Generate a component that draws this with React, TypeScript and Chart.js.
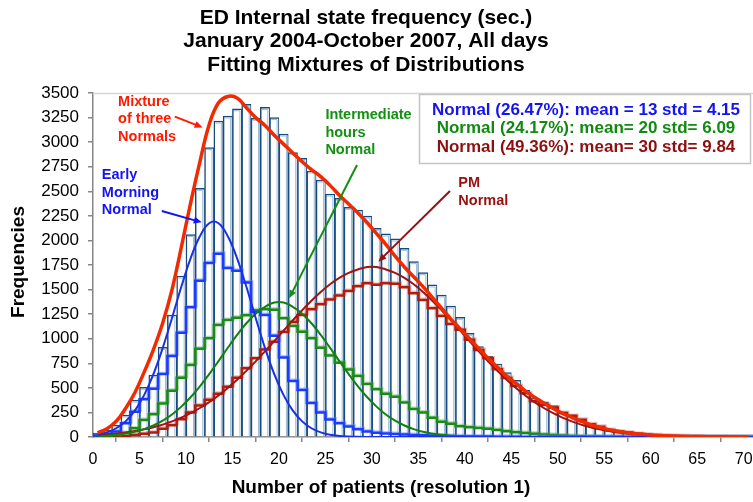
import React, { useEffect, useRef } from 'react';
import { Chart, registerables } from 'chart.js';

Chart.register(...registerables);

const FONT = '"Liberation Sans", Arial, Helvetica, sans-serif';

// Histogram bins: bin k covers [k, k+1) patients
const bins = Array.from({ length: 71 }, (_, i) => i);

// All-days frequency per bin
const totalCounts = [
  40, 70, 122, 224, 376, 506, 631, 912, 1241, 1638,
  2060, 2530, 2945, 3215, 3266, 3340, 3385, 3243, 3353, 3250,
  3083, 2893, 2835, 2706, 2615, 2472, 2428, 2337, 2310, 2249,
  2123, 2066, 2015, 1920, 1784, 1672, 1547, 1445, 1333, 1218,
  1055, 919, 820, 742, 655, 577, 478, 395, 359, 319,
  255, 224, 183, 135, 108, 75, 58, 48, 34, 25,
  20, 15, 12, 8, 6, 4, 3, 2, 1, 1, 0,
];

// Component histograms (step lines)
const earlyCounts = [
  15, 30, 55, 139, 258, 383, 490, 640, 824, 1061,
  1319, 1590, 1770, 1865, 1720, 1692, 1572, 1275, 1241, 1030,
  810, 570, 478, 345, 250, 178, 140, 108, 80, 56,
  44, 36, 30, 25, 20, 17, 14, 12, 10, 8,
  6, 5, 4, 3, 2, 2, 1, 1, 0, 0,
  0, 0, 0, 0, 0, 0, 0, 0, 0, 0,
  0, 0, 0, 0, 0, 0, 0, 0, 0, 0, 0,
];
const intermediateCounts = [
  5, 10, 20, 40, 88, 173, 231, 342, 471, 604,
  732, 899, 1004, 1140, 1190, 1214, 1240, 1290, 1299, 1295,
  1207, 1129, 1072, 1004, 909, 828, 756, 688, 620, 540,
  485, 440, 410, 350, 285, 250, 195, 156, 135, 110,
  100, 92, 85, 72, 58, 48, 40, 33, 26, 20,
  15, 11, 8, 6, 4, 3, 2, 1, 1, 0,
  0, 0, 0, 0, 0, 0, 0, 0, 0, 0, 0,
];
const pmCounts = [
  0, 2, 4, 8, 20, 32, 45, 85, 120, 180,
  250, 320, 380, 440, 510, 604, 699, 800, 890, 970,
  1068, 1170, 1241, 1300, 1350, 1398, 1440, 1485, 1535, 1564,
  1550, 1564, 1560, 1523, 1462, 1394, 1310, 1232, 1150, 1090,
  990, 885, 800, 690, 600, 520, 444, 365, 325, 300,
  245, 215, 175, 130, 105, 72, 55, 45, 32, 24,
  18, 13, 10, 7, 5, 4, 3, 2, 1, 1, 0,
];

// Fitted curves, sampled at bin centres
const earlyFit = [
  23, 47, 89, 159, 268, 426, 639, 906, 1211, 1528,
  1818, 2042, 2175, 2175, 2042, 1818, 1528, 1211, 906, 639,
  426, 268, 159, 89, 47, 23, 11, 5, 2, 1,
  0, 0, 0, 0, 0, 0, 0, 0, 0, 0,
  0, 0, 0, 0, 0, 0, 0, 0, 0, 0,
  0, 0, 0, 0, 0, 0, 0, 0, 0, 0,
  0, 0, 0, 0, 0, 0, 0, 0, 0, 0, 0,
];
const intermediateFit = [
  8, 14, 22, 35, 53, 80, 117, 166, 229, 309,
  404, 515, 640, 772, 908, 1039, 1157, 1255, 1324, 1368,
  1368, 1324, 1255, 1157, 1039, 908, 772, 640, 515, 404,
  309, 229, 166, 117, 80, 53, 35, 22, 14, 8,
  5, 3, 2, 1, 0, 0, 0, 0, 0, 0,
  0, 0, 0, 0, 0, 0, 0, 0, 0, 0,
  0, 0, 0, 0, 0, 0, 0, 0, 0, 0, 0,
];
const pmFit = [
  19, 26, 35, 46, 60, 78, 100, 126, 159, 197,
  242, 295, 355, 423, 499, 583, 673, 770, 871, 976,
  1082, 1188, 1290, 1387, 1476, 1554, 1619, 1670, 1705, 1730,
  1730, 1705, 1670, 1619, 1554, 1476, 1387, 1290, 1188, 1082,
  976, 871, 770, 673, 583, 499, 423, 355, 295, 242,
  197, 159, 126, 100, 78, 60, 46, 35, 26, 19,
  14, 10, 7, 5, 4, 3, 2, 1, 1, 1, 0,
];
const mixtureFit = [
  42, 85, 160, 290, 450, 660, 890, 1160, 1500, 1930,
  2380, 2800, 3180, 3400, 3465, 3450, 3350, 3250, 3170, 3070,
  2980, 2890, 2800, 2720, 2650, 2560, 2460, 2370, 2280, 2180,
  2070, 1960, 1840, 1730, 1630, 1530, 1420, 1310, 1200, 1100,
  1000, 900, 800, 710, 620, 545, 470, 405, 345, 290,
  240, 200, 160, 125, 98, 75, 58, 44, 33, 25,
  18, 13, 10, 7, 5, 4, 3, 2, 1, 1, 0,
];

const xTickValues = [0, 5, 10, 15, 20, 25, 30, 35, 40, 45, 50, 55, 60, 65, 70];
const yTickValues = [0, 250, 500, 750, 1000, 1250, 1500, 1750, 2000, 2250, 2500, 2750, 3000, 3250, 3500];

const titleLines = [
  'ED Internal state frequency (sec.)',
  'January 2004-October 2007, All days',
  'Fitting Mixtures of Distributions',
];
const xAxisTitle = 'Number of patients (resolution 1)';
const yAxisTitle = 'Frequencies';

const fitNotes = [
  { text: 'Normal (26.47%): mean = 13 std = 4.15', color: '#1414f0' },
  { text: 'Normal (24.17%): mean= 20 std= 6.09', color: '#118a11' },
  { text: 'Normal (49.36%): mean= 30 std= 9.84', color: '#8e0f0f' },
];

// Callouts: text anchored at [x, value]; arrow from -> to, in data units
const callouts = [
  { lines: ['Mixture', 'of three', 'Normals'], color: '#ff1a00', at: [2.7, 3411], from: [8.8, 3259], to: [11.8, 3149] },
  { lines: ['Early', 'Morning', 'Normal'], color: '#1414f0', at: [0.95, 2666], from: [7.4, 2299], to: [11.7, 2184] },
  { lines: ['Intermediate', 'hours', 'Normal'], color: '#119011', at: [25.0, 3276], from: [28.4, 2767], to: [21.1, 1411] },
  { lines: ['PM', 'Normal'], color: '#951010', at: [39.3, 2581], from: [38.4, 2503], to: [30.7, 1784] },
];

const binCentres = (vals: number[]) => vals.map((v, i) => ({ x: bins[i] + 0.5, y: v }));
const binSteps = (vals: number[]) => {
  const pts = vals.map((v, i) => ({ x: bins[i], y: v }));
  pts.push({ x: bins[bins.length - 1] + 1, y: vals[vals.length - 1] });
  return pts;
};

// Pale halo colours for the step lines
const stepHalo: Record<string, string> = {
  'Early morning': 'rgba(90,130,255,0.45)',
  'Intermediate hours': 'rgba(90,170,90,0.45)',
  PM: 'rgba(210,110,100,0.45)',
};

const overlay = {
  id: 'overlay',
  beforeDatasetsDraw(chart: any) {
    const { ctx, chartArea } = chart;
    ctx.save();
    ctx.strokeStyle = '#d6d6d6';
    ctx.lineWidth = 1.5;
    ctx.beginPath();
    ctx.moveTo(chartArea.left, chartArea.top + 0.5);
    ctx.lineTo(chartArea.right, chartArea.top + 0.5);
    ctx.stroke();
    ctx.restore();
  },
  beforeDatasetDraw(chart: any, args: any) {
    const ds = chart.data.datasets[args.index];
    if (ds.type !== 'bar' && stepHalo[ds.label]) {
      const { ctx } = chart;
      ctx.save();
      ctx.shadowColor = stepHalo[ds.label];
      ctx.shadowOffsetX = 1.2;
      ctx.shadowOffsetY = -1.2;
      ctx.shadowBlur = 0;
    }
  },
  afterDatasetDraw(chart: any, args: any) {
    const { ctx } = chart;
    const ds = chart.data.datasets[args.index];
    if (ds.type === 'bar') {
      // pale inner edge on the right and top of every bar
      ctx.save();
      ctx.strokeStyle = '#9bbad8';
      ctx.lineWidth = 1;
      args.meta.data.forEach((bar: any) => {
        const right = bar.x + bar.width / 2 - 1.8;
        const left = bar.x - bar.width / 2 + 1.5;
        if (bar.base - bar.y < 3) return;
        ctx.beginPath();
        ctx.moveTo(left, bar.y + 2);
        ctx.lineTo(right, bar.y + 2);
        ctx.moveTo(right, bar.y + 2);
        ctx.lineTo(right, bar.base);
        ctx.stroke();
      });
      ctx.restore();
    } else if (stepHalo[ds.label]) {
      ctx.restore();
    }
  },
  afterDraw(chart: any) {
    const { ctx } = chart;
    const xs = chart.scales.x;
    const ys = chart.scales.y;
    ctx.save();

    // titles
    ctx.fillStyle = '#000';
    ctx.textAlign = 'center';
    ctx.textBaseline = 'middle';
    ctx.font = `bold 21px ${FONT}`;
    titleLines.forEach((t, i) => ctx.fillText(t, 366, 18 + i * 23.5));

    ctx.font = `bold 19px ${FONT}`;
    ctx.fillText(xAxisTitle, 381, 488);

    ctx.save();
    ctx.translate(19, 262);
    ctx.rotate(-Math.PI / 2);
    ctx.font = `bold 19px ${FONT}`;
    ctx.fillText(yAxisTitle, 0, 0);
    ctx.restore();

    // fit summary box
    ctx.fillStyle = '#ffffff';
    ctx.fillRect(419.5, 94.5, 331, 69);
    ctx.strokeStyle = '#c4c4c4';
    ctx.lineWidth = 1.5;
    ctx.strokeRect(419.5, 94.5, 331, 69);
    ctx.font = `bold 17px ${FONT}`;
    fitNotes.forEach((n, i) => {
      ctx.fillStyle = n.color;
      ctx.fillText(n.text, 586, 110.5 + i * 18.3);
    });

    // callouts with arrows
    callouts.forEach((c) => {
      ctx.fillStyle = c.color;
      ctx.strokeStyle = c.color;
      ctx.font = `bold 14.5px ${FONT}`;
      ctx.textAlign = 'left';
      const tx = xs.getPixelForValue(c.at[0]);
      const ty = ys.getPixelForValue(c.at[1]);
      c.lines.forEach((l, i) => ctx.fillText(l, tx, ty + i * 17.6));

      const x1 = xs.getPixelForValue(c.from[0]);
      const y1 = ys.getPixelForValue(c.from[1]);
      const x2 = xs.getPixelForValue(c.to[0]);
      const y2 = ys.getPixelForValue(c.to[1]);
      const ang = Math.atan2(y2 - y1, x2 - x1);
      const head = 8;
      ctx.lineWidth = 2;
      ctx.beginPath();
      ctx.moveTo(x1, y1);
      ctx.lineTo(x2 - Math.cos(ang) * head * 0.8, y2 - Math.sin(ang) * head * 0.8);
      ctx.stroke();
      ctx.beginPath();
      ctx.moveTo(x2, y2);
      ctx.lineTo(x2 - head * Math.cos(ang) + 3.5 * Math.sin(ang), y2 - head * Math.sin(ang) - 3.5 * Math.cos(ang));
      ctx.lineTo(x2 - head * Math.cos(ang) - 3.5 * Math.sin(ang), y2 - head * Math.sin(ang) + 3.5 * Math.cos(ang));
      ctx.closePath();
      ctx.fill();
    });

    ctx.restore();
  },
};

export default function App() {
  const canvasRef = useRef<HTMLCanvasElement | null>(null);

  useEffect(() => {
    const canvas = canvasRef.current;
    if (!canvas) return;

    const stepLine = (label: string, vals: number[], color: string) => ({
      type: 'line' as const,
      label,
      data: binSteps(vals),
      borderColor: color,
      borderWidth: 2.5,
      stepped: true,
      pointRadius: 0,
      fill: false,
      order: 2,
    });
    const curve = (label: string, vals: number[], color: string, width: number, order: number) => ({
      type: 'line' as const,
      label,
      data: binCentres(vals),
      borderColor: color,
      borderWidth: width,
      tension: 0.4,
      pointRadius: 0,
      fill: false,
      order,
    });

    const chart = new Chart(canvas, {
      type: 'bar',
      data: {
        datasets: [
          {
            type: 'bar',
            label: 'All days',
            data: binCentres(totalCounts),
            backgroundColor: '#ffffff',
            borderColor: '#174b7e',
            borderWidth: { left: 1.5, top: 1.5, right: 1, bottom: 0 },
            borderSkipped: false,
            barPercentage: 1,
            categoryPercentage: 1,
            order: 4,
          } as any,
          stepLine('Early morning', earlyCounts, '#1b3cff'),
          stepLine('Intermediate hours', intermediateCounts, '#1a8a1a'),
          stepLine('PM', pmCounts, '#b01c10'),
          curve('Early morning fit', earlyFit, '#1a30e6', 2, 1),
          curve('Intermediate fit', intermediateFit, '#118011', 2, 1),
          curve('PM fit', pmFit, '#a01410', 2, 1),
          curve('Mixture of three Normals', mixtureFit, '#f22a00', 3.5, 0),
        ],
      },
      options: {
        responsive: false,
        animation: false,
        devicePixelRatio: 1,
        layout: { padding: { top: 93, left: 0, right: 0, bottom: 0 } },
        plugins: {
          legend: { display: false },
          tooltip: { enabled: false },
          title: { display: false },
        },
        scales: {
          x: {
            type: 'linear',
            min: 0,
            max: 71,
            offset: false,
            afterBuildTicks: (s: any) => {
              s.ticks = xTickValues.map((v) => ({ value: v }));
            },
            afterFit: (s: any) => {
              s.height = 65;
              s.paddingLeft = 0;
              s.paddingRight = 0;
            },
            ticks: {
              autoSkip: false,
              maxRotation: 0,
              padding: 8,
              color: '#000',
              font: { family: FONT, size: 16 },
              callback: (v: any) => String(v),
            },
            grid: { drawOnChartArea: false, drawTicks: true, tickLength: 5, color: '#868686', lineWidth: 1.5 },
            border: { color: '#868686', width: 1.5 },
          },
          y: {
            type: 'linear',
            min: 0,
            max: 3500,
            afterBuildTicks: (s: any) => {
              s.ticks = yTickValues.map((v) => ({ value: v }));
            },
            afterFit: (s: any) => {
              s.width = 93;
              s.paddingTop = 0;
              s.paddingBottom = 0;
            },
            ticks: {
              padding: 9,
              color: '#000',
              font: { family: FONT, size: 17 },
              callback: (v: any) => String(v),
            },
            grid: { drawOnChartArea: false, drawTicks: true, tickLength: 5, color: '#868686', lineWidth: 1.5 },
            border: { color: '#868686', width: 1.5 },
          },
        },
      } as any,
      plugins: [overlay],
    });

    return () => chart.destroy();
  }, []);

  return (
    <div style={{ position: 'absolute', left: 0, top: 0, width: 753, height: 502, background: '#fff' }}>
      <canvas ref={canvasRef} width={753} height={502} style={{ display: 'block' }} />
    </div>
  );
}
